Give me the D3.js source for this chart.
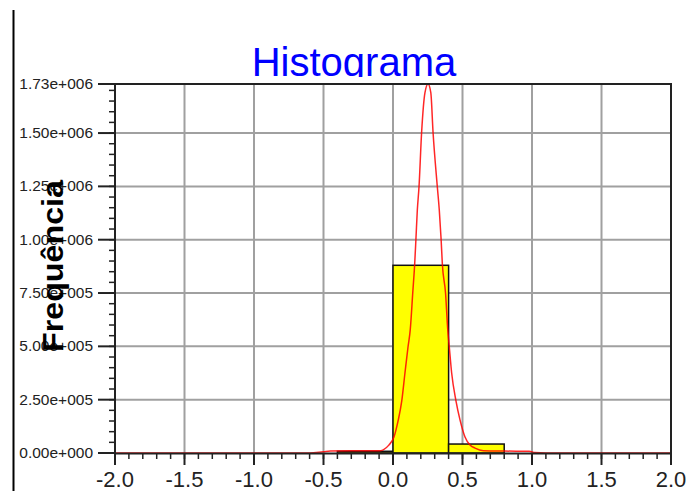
<!DOCTYPE html>
<html>
<head>
<meta charset="utf-8">
<script src="https://cdn.jsdelivr.net/npm/d3@7"></script>
<style>
  body { margin: 0; background: #fff; }
  svg { display: block; font-family: "Liberation Sans", Arial, sans-serif; }
</style>
</head>
<body>
<svg id="chart" width="691" height="491"></svg>
<script>
// histogram bins (lower edge, upper edge, count)
const binStart = [-0.4, 0.0, 0.4];
const binEnd = [0.0, 0.4, 0.8];
const binCount = [8000, 880000, 42000];

// fitted curve
const curveX = [-2.0, -0.6, -0.5, -0.45, -0.3, -0.1, -0.07, -0.03, 0.007, 0.038, 0.063, 0.086, 0.108, 0.124, 0.142, 0.156, 0.165, 0.175, 0.187, 0.206, 0.23, 0.252, 0.272, 0.288, 0.319, 0.333, 0.346, 0.355, 0.378, 0.394, 0.405, 0.422, 0.453, 0.482, 0.518, 0.554, 0.59, 0.65, 0.8, 0.98, 1.02, 1.1, 2.0];
const curveY = [0, 0, 6000, 9000, 10000, 10000, 15000, 37000, 75000, 155000, 244000, 375000, 497000, 577000, 750000, 886000, 1003000, 1139000, 1247000, 1505000, 1690000, 1730000, 1690000, 1505000, 1247000, 1139000, 1003000, 886000, 750000, 577000, 497000, 375000, 244000, 155000, 75000, 37000, 23000, 11000, 9000, 8000, 2000, 0, 0];

const xTicks = [-2.0, -1.5, -1.0, -0.5, 0.0, 0.5, 1.0, 1.5, 2.0];
const yTicks = [0, 250000, 500000, 750000, 1000000, 1250000, 1500000, 1730000];

const svg = d3.select("#chart");
const x = d3.scaleLinear().domain([-2, 2]).range([115, 671]);
const y = d3.scaleLinear().domain([0, 1730000]).range([453, 84]);

// left frame line
svg.append("line")
  .attr("x1", 13.5).attr("x2", 13.5).attr("y1", 10).attr("y2", 491)
  .attr("stroke", "#000").attr("stroke-width", 2);

// title (plot area covers its bottom)
svg.append("text")
  .attr("x", 354).attr("y", 76)
  .attr("text-anchor", "middle")
  .attr("font-size", 40)
  .attr("fill", "#0000ff")
  .text("Histograma");

svg.append("rect")
  .attr("x", 115).attr("y", 77).attr("width", 556).attr("height", 376)
  .attr("fill", "#fff");

// grid
svg.append("g").selectAll("line")
  .data(xTicks.slice(1, -1))
  .join("line")
  .attr("x1", d => x(d)).attr("x2", d => x(d))
  .attr("y1", 84).attr("y2", 453)
  .attr("stroke", "#a0a0a0").attr("stroke-width", 2);

svg.append("g").selectAll("line")
  .data(yTicks.slice(1, -1))
  .join("line")
  .attr("x1", 115).attr("x2", 671)
  .attr("y1", d => y(d)).attr("y2", d => y(d))
  .attr("stroke", "#a0a0a0").attr("stroke-width", 2);

// bars
svg.append("g").selectAll("rect")
  .data(binCount)
  .join("rect")
  .attr("x", (d, i) => x(binStart[i]))
  .attr("width", (d, i) => x(binEnd[i]) - x(binStart[i]))
  .attr("y", d => y(d))
  .attr("height", d => y(0) - y(d))
  .attr("fill", "#ffff00")
  .attr("stroke", "#111")
  .attr("stroke-width", 1.5);

// fitted curve
const line = d3.line()
  .x(d => x(d[0]))
  .y(d => y(d[1]))
  .curve(d3.curveMonotoneX);

svg.append("path")
  .datum(curveX.map((v, i) => [v, curveY[i]]))
  .attr("d", line)
  .attr("fill", "none")
  .attr("stroke", "#ff0000")
  .attr("stroke-opacity", 0.85)
  .attr("stroke-width", 1.5);

// frame
svg.append("path")
  .attr("d", `M${x(-2)},${y(0)}V84H671V${y(0)}`)
  .attr("fill", "none")
  .attr("stroke", "#222")
  .attr("stroke-width", 2);

// x axis
const xAxis = svg.append("g");
xAxis.append("line")
  .attr("x1", 115).attr("x2", 671).attr("y1", 453.5).attr("y2", 453.5)
  .attr("stroke", "#222").attr("stroke-width", 2);
xAxis.selectAll("line.minor")
  .data(d3.range(-20, 21).map(d => d / 10))
  .join("line")
  .attr("class", "minor")
  .attr("x1", d => x(d)).attr("x2", d => x(d))
  .attr("y1", 453).attr("y2", 459)
  .attr("stroke", "#222").attr("stroke-width", 1.5);
xAxis.selectAll("line.major")
  .data(xTicks)
  .join("line")
  .attr("class", "major")
  .attr("x1", d => x(d)).attr("x2", d => x(d))
  .attr("y1", 453).attr("y2", 465)
  .attr("stroke", "#222").attr("stroke-width", 2);
xAxis.selectAll("text")
  .data(xTicks)
  .join("text")
  .attr("x", d => x(d)).attr("y", 487)
  .attr("text-anchor", "middle")
  .attr("font-size", 22)
  .attr("fill", "#222")
  .text(d => d.toFixed(1));

// y axis
const fmt = v => {
  const s = v.toExponential(2).split("e");
  const sign = s[1][0];
  const exp = s[1].slice(1).padStart(3, "0");
  return s[0] + "e" + sign + exp;
};
const yAxis = svg.append("g");
yAxis.selectAll("line.minor")
  .data(d3.range(0, 35).map(d => d * 50000))
  .join("line")
  .attr("class", "minor")
  .attr("x1", 109).attr("x2", 115)
  .attr("y1", d => y(d)).attr("y2", d => y(d))
  .attr("stroke", "#222").attr("stroke-width", 1.5);
yAxis.selectAll("line.major")
  .data(yTicks)
  .join("line")
  .attr("class", "major")
  .attr("x1", 98).attr("x2", 115)
  .attr("y1", d => y(d)).attr("y2", d => y(d))
  .attr("stroke", "#222").attr("stroke-width", 2);
yAxis.selectAll("text")
  .data(yTicks)
  .join("text")
  .attr("x", 93).attr("y", d => y(d) + 5)
  .attr("text-anchor", "end")
  .attr("font-size", 15.5)
  .attr("fill", "#222")
  .text(fmt);

// y label
svg.append("text")
  .attr("transform", "translate(63,266) rotate(-90)")
  .attr("text-anchor", "middle")
  .attr("font-size", 29)
  .attr("font-weight", "bold")
  .attr("fill", "#000")
  .attr("textLength", 172)
  .attr("lengthAdjust", "spacingAndGlyphs")
  .text("Frequência");
</script>
</body>
</html>
